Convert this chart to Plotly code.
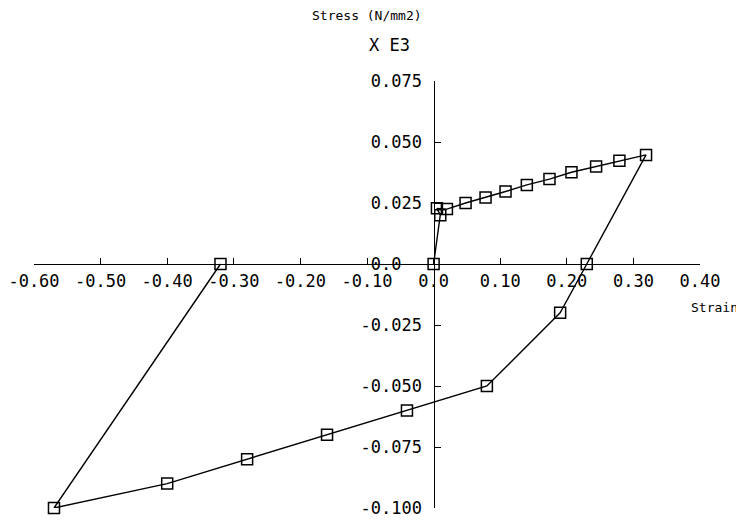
import plotly.graph_objects as go

strain = [0.0, 0.01, 0.005, 0.02, 0.048, 0.078, 0.108, 0.14, 0.174, 0.207, 0.244, 0.279, 0.319,
          0.23, 0.19, 0.08, -0.04, -0.16, -0.28, -0.40, -0.57, -0.32]
stress = [0.0, 0.020, 0.0228, 0.0225, 0.025, 0.0273, 0.0297, 0.0324, 0.0348, 0.0376, 0.040, 0.0423, 0.0447,
          0.0, -0.020, -0.050, -0.060, -0.070, -0.080, -0.090, -0.100, 0.0]

x_ticks = [-0.6, -0.5, -0.4, -0.3, -0.2, -0.1, 0.0, 0.1, 0.2, 0.3, 0.4]
x_labels = ["-0.60", "-0.50", "-0.40", "-0.30", "-0.20", "-0.10", "0.0", "0.10", "0.20", "0.30", "0.40"]
y_ticks = [0.075, 0.05, 0.025, 0.0, -0.025, -0.05, -0.075, -0.1]
y_labels = ["0.075", "0.050", "0.025", "0.0\u00a0\u00a0", "-0.025", "-0.050", "-0.075", "-0.100"]

xr = [-0.6, 0.4]
yr = [-0.1, 0.075]
FONT = "DejaVu Sans Mono"

fig = go.Figure()
fig.add_trace(go.Scatter(
    x=strain, y=stress, mode="lines+markers",
    line=dict(color="black", width=1.4),
    marker=dict(symbol="square-open", size=11, color="black", line=dict(width=1.5, color="black")),
    cliponaxis=False, showlegend=False,
))

# page body has an 8px default margin, so the figure starts at (8, 8)
fig.update_layout(
    width=736, height=512,
    margin=dict(l=26, r=44, t=73, b=12, autoexpand=False),
    paper_bgcolor="white", plot_bgcolor="white",
    font=dict(family=FONT, size=16, color="black"),
    xaxis=dict(
        range=xr, tickvals=x_ticks, ticktext=x_labels, automargin=False,
        showgrid=False, zeroline=False, showline=True, linecolor="black", linewidth=1.4,
        ticks="inside", ticklen=6, tickwidth=1.4, tickcolor="black",
        anchor="free", position=(0 - yr[0]) / (yr[1] - yr[0]), side="bottom",
        ticklabelstandoff=1, tickfont=dict(family=FONT, size=17),
    ),
    yaxis=dict(
        range=yr, tickvals=y_ticks, ticktext=y_labels, automargin=False,
        showgrid=False, zeroline=False, showline=True, linecolor="black", linewidth=1.4,
        ticks="inside", ticklen=6, tickwidth=1.4, tickcolor="black",
        anchor="free", position=(0 - xr[0]) / (xr[1] - xr[0]), side="left",
        ticklabelstandoff=8, tickfont=dict(family=FONT, size=17),
    ),
    annotations=[
        dict(text="Stress (N/mm2)", x=0.6, y=1, xref="paper", yref="paper",
             xanchor="center", yanchor="middle", yshift=66, xshift=-67, showarrow=False,
             font=dict(family=FONT, size=13)),
        dict(text="X E3", x=0.6, y=1, xref="paper", yref="paper",
             xanchor="center", yanchor="middle", yshift=36, xshift=-44, showarrow=False,
             font=dict(family=FONT, size=17)),
        dict(text="Strain", x=1, y=(0 - yr[0]) / (yr[1] - yr[0]), xref="paper", yref="paper",
             xanchor="right", yanchor="middle", xshift=40, yshift=-43, showarrow=False,
             font=dict(family=FONT, size=13)),
    ],
)

fig.write_html("out.html")
